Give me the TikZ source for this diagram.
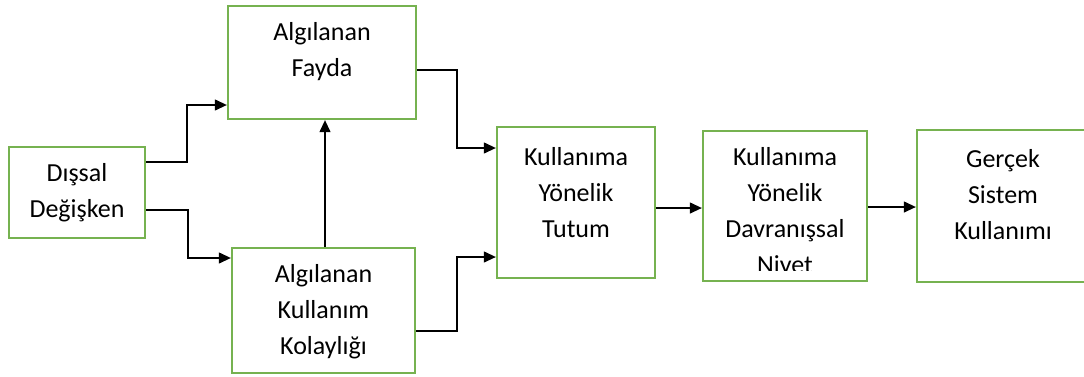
\documentclass[tikz,border=0pt]{standalone}
\usepackage{fontspec}
\setmainfont{Carlito}
\usetikzlibrary{arrows.meta}
\definecolor{boxgreen}{RGB}{118,178,80}
\tikzset{
  box/.style={draw=boxgreen, line width=1.6pt, inner sep=0pt, rectangle},
  txt/.style={align=center, font=\fontsize{19.5}{27}\selectfont, inner sep=0pt},
  link/.style={line width=1.5pt, -{Triangle[length=9pt,width=8pt]}},
  plain/.style={line width=1.5pt}
}
\begin{document}
\begin{tikzpicture}[x=0.75pt,y=-0.75pt]
\useasboundingbox (0,0) rectangle (1084,376);
\clip (0,0) rectangle (1084,376);
\fill[white] (0,0) rectangle (1084,376);

% boxes
\node[box, minimum width=102pt, minimum height=68.25pt] (dis) at (77,192.5) {};
\node[box, minimum width=141pt, minimum height=84.75pt] (fayda) at (322,62.5) {};
\node[box, minimum width=137.25pt, minimum height=93.75pt] (kol) at (323.5,310.5) {};
\node[box, minimum width=118.5pt, minimum height=113.25pt] (tutum) at (576,202.5) {};
\node[box, minimum width=123pt, minimum height=112.5pt] (niyet) at (785,206) {};
\node[box, minimum width=131.25pt, minimum height=114pt] (gercek) at (1004.5,206) {};

% labels
\node[txt] (disT) at (77,193) {Dışsal\\Değişken};
\node[txt] (faydaT) at (322,52) {Algılanan\\Fayda};
\node[txt] (kolT) at (323.5,312) {Algılanan\\Kullanım\\Kolaylığı};
\node[txt] (tutumT) at (576,193) {Kullanıma\\Yönelik\\Tutum};
\node[txt] (gercekT) at (1003,195) {Gerçek\\Sistem\\Kullanımı};
% the last line of this box runs past its text area and is cut off
\begin{scope}
  \clip (703,131) rectangle (867,270.5);
  \node[txt] (niyetT) at (785,213) {Kullanıma\\Yönelik\\Davranışsal\\Niyet};
\end{scope}

% connectors
\draw[link] (dis.east |- 0,162) -| (187,105) -- (fayda.west |- 0,105);
\draw[link] (dis.east |- 0,210) -| (188,258) -- (kol.west |- 0,258);
\draw[link] (kol.north -| 325,0) -- (fayda.south -| 325,0);
\draw[link] (fayda.east |- 0,70) -| (457,148) -- (tutum.west |- 0,148);
\draw[link] (kol.east |- 0,331) -| (457,257) -- (tutum.west |- 0,257);
\draw[link] (tutum.east |- 0,208) -- (niyet.west |- 0,208);
\draw[link] (niyet.east |- 0,207) -- (gercek.west |- 0,207);
\end{tikzpicture}
\end{document}
